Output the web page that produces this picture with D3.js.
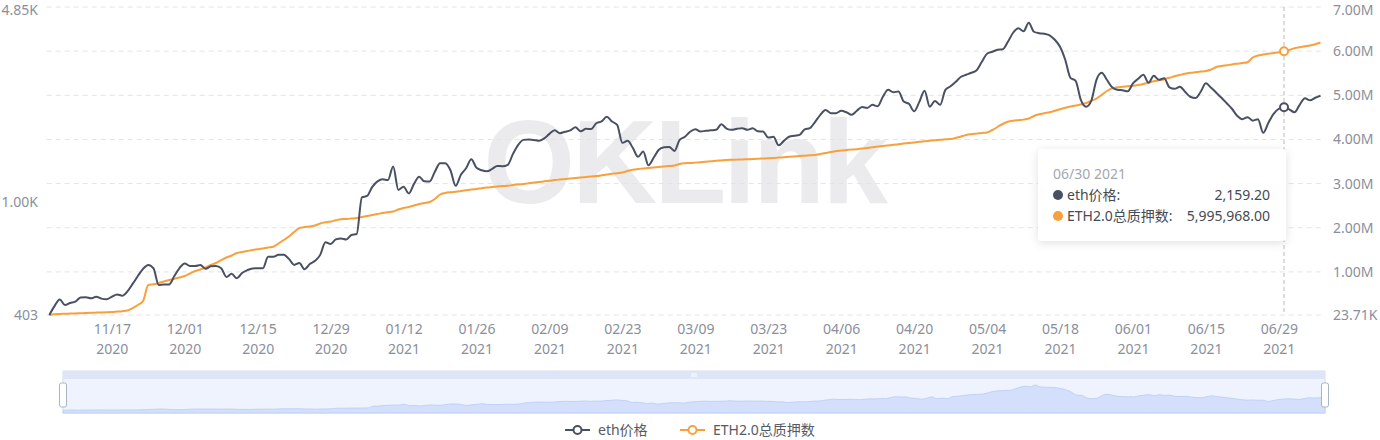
<!DOCTYPE html>
<html><head><meta charset="utf-8">
<script src="https://cdn.jsdelivr.net/npm/d3@7"></script>
<style>
body{margin:0;background:#fff;}
svg{display:block;font-family:"Noto Sans","Noto Sans CJK SC",sans-serif;}
</style>
</head><body>
<svg id="chart" width="1380" height="440"></svg>
<script>
// ---------- data ----------
const startDate = "2020-11-05";   // first category; one category per day
const seriesNames = ["eth价格", "ETH2.0总质押数"];
const ethPrice = [
403,433,457,437,444,449,464,465,461,467,
460,458,467,476,471,488,518,552,585,604,
587,514,516,516,552,589,611,599,599,604,
585,597,599,588,548,562,542,566,579,587,
588,588,645,645,655,655,634,604,613,583,
608,624,655,726,715,742,748,742,769,775,
1042,1054,1135,1186,1206,1198,1336,1107,1135,1076,
1162,1230,1186,1184,1281,1374,1374,1297,1144,1250,
1318,1417,1323,1297,1286,1312,1344,1339,1355,1481,
1593,1658,1664,1658,1645,1678,1741,1791,1751,1770,
1791,1835,1777,1813,1809,1896,1924,1998,1924,1873,
1619,1645,1555,1446,1509,1350,1435,1530,1561,1567,
1517,1658,1700,1770,1806,1774,1784,1791,1798,1880,
1817,1798,1813,1823,1798,1820,1777,1774,1689,1700,
1587,1645,1700,1714,1727,1806,1823,1919,2030,2109,
2058,2058,2097,2072,2030,2097,2161,2146,2201,2175,
2349,2485,2436,2452,2260,2219,2089,2254,2465,2166,
2272,2201,2485,2556,2651,2760,2805,2851,2909,3116,
3325,3379,3434,3448,3662,3939,4085,3987,4271,3971,
3923,3907,3860,3722,3517,3167,2738,2672,2290,2166,
2272,2694,2851,2694,2536,2485,2475,2455,2618,2716,
2805,2629,2783,2694,2727,2536,2505,2546,2446,2349,
2324,2446,2618,2526,2426,2330,2228,2132,2014,1960,
1992,1937,1960,1755,1903,2046,2132,2159.2,2123,2072,
2201,2320,2282,2330,2368
];
const ethStaked = [
23710,42000,46000,51000,55000,60000,64000,69000,73000,78000,
83000,87000,92000,101000,110000,126000,182000,250000,341000,703000,
719000,748000,782000,816000,846000,873000,907000,964000,1020000,1054000,
1104000,1156000,1202000,1269000,1326000,1371000,1428000,1451000,1473000,1496000,
1512000,1530000,1553000,1571000,1643000,1723000,1802000,1904000,1994000,2017000,
2028000,2051000,2096000,2123000,2141000,2169000,2191000,2198000,2209000,2221000,
2243000,2266000,2289000,2311000,2334000,2350000,2368000,2413000,2447000,2470000,
2504000,2538000,2561000,2583000,2651000,2753000,2787000,2805000,2817000,2832000,
2848000,2864000,2878000,2896000,2912000,2923000,2934000,2945000,2950000,2968000,
2980000,2991000,3007000,3025000,3036000,3052000,3063000,3081000,3093000,3104000,
3115000,3127000,3138000,3149000,3161000,3172000,3188000,3206000,3222000,3233000,
3251000,3285000,3312000,3330000,3342000,3353000,3364000,3376000,3387000,3398000,
3410000,3444000,3460000,3466000,3475000,3484000,3494000,3505000,3516000,3525000,
3534000,3539000,3543000,3548000,3552000,3557000,3562000,3568000,3573000,3580000,
3589000,3598000,3607000,3616000,3625000,3632000,3641000,3648000,3670000,3693000,
3716000,3734000,3750000,3761000,3772000,3779000,3793000,3806000,3822000,3838000,
3851000,3865000,3879000,3892000,3906000,3919000,3933000,3947000,3958000,3969000,
3981000,3992000,4003000,4010000,4033000,4067000,4101000,4119000,4132000,4146000,
4157000,4214000,4282000,4350000,4402000,4422000,4436000,4449000,4474000,4531000,
4570000,4595000,4617000,4649000,4685000,4717000,4746000,4769000,4791000,4825000,
4875000,4927000,5007000,5097000,5158000,5181000,5192000,5204000,5215000,5233000,
5256000,5290000,5317000,5340000,5365000,5396000,5430000,5460000,5489000,5510000,
5523000,5537000,5550000,5584000,5641000,5663000,5681000,5700000,5716000,5731000,
5750000,5856000,5901000,5924000,5942000,5958000,5974000,5995968,6026000,6067000,
6089000,6110000,6130000,6155000,6196000
];
const xTicks = ["2020-11-17","2020-12-01","2020-12-15","2020-12-29","2021-01-12","2021-01-26",
  "2021-02-09","2021-02-23","2021-03-09","2021-03-23","2021-04-06","2021-04-20","2021-05-04",
  "2021-05-18","2021-06-01","2021-06-15","2021-06-29"];
const leftTicks = [403, 1000, 4850];
const leftTickLabels = ["403", "1.00K", "4.85K"];
const rightTicks = [23710, 1000000, 2000000, 3000000, 4000000, 5000000, 6000000, 7000000];
const rightTickLabels = ["23.71K","1.00M","2.00M","3.00M","4.00M","5.00M","6.00M","7.00M"];
const tooltipDate = "2021-06-30";

// ---------- setup ----------
const colPrice = "#4a5063", colStake = "#f7a03c", axisText = "#8a8f9b";
const parse = d3.utcParse("%Y-%m-%d");
const t0 = parse(startDate);
const dates = ethPrice.map((_, i) => d3.utcDay.offset(t0, i));
const rows = dates.map((d, i) => ({date: d, price: ethPrice[i], staked: ethStaked[i]}));

const svg = d3.select("#chart");
const plot = {left: 49.3, right: 1320.5, top: 7, bottom: 315};

const x = d3.scaleUtc().domain([dates[0], dates[dates.length - 1]]).range([plot.left, plot.right]);
const yL = d3.scaleLog().domain([403, 4850]).range([plot.bottom, plot.top]);
const yR = d3.scaleLinear().domain([23710, 7000000]).range([plot.bottom, plot.top]);

// watermark
svg.append("text").attr("x", 684).attr("y", 203).attr("text-anchor", "middle")
  .attr("font-family", "Liberation Sans, Arial, sans-serif").attr("font-weight", "bold")
  .attr("font-size", 118).attr("fill", "#ebebed").attr("letter-spacing", -3).text("OKLink");

// grid lines (right axis ticks)
svg.append("g").selectAll("line").data(rightTicks).join("line")
  .attr("x1", 46.7).attr("x2", 1322)
  .attr("y1", d => yR(d)).attr("y2", d => yR(d))
  .attr("stroke", "#e2e4ea").attr("stroke-width", 1).attr("stroke-dasharray", "5,4");

// right axis
const rAxis = d3.axisRight(yR).tickValues(rightTicks).tickSize(0).tickPadding(0)
  .tickFormat((d, i) => rightTickLabels[i]);
const gR = svg.append("g").attr("transform", "translate(1333,0)").call(rAxis);
gR.select(".domain").remove();
gR.selectAll("text").attr("fill", axisText).attr("font-size", 14)
  .attr("font-family", "Noto Sans, sans-serif");
gR.selectAll(".tick").filter(d => d === 7000000).select("text").attr("dy", "0.5em");

// left axis
const lAxis = d3.axisLeft(yL).tickValues(leftTicks).tickSize(0).tickPadding(0)
  .tickFormat((d, i) => leftTickLabels[i]);
const gL = svg.append("g").attr("transform", "translate(38,0)").call(lAxis);
gL.select(".domain").remove();
gL.selectAll("text").attr("fill", axisText).attr("font-size", 14)
  .attr("font-family", "Noto Sans, sans-serif");
gL.selectAll(".tick").filter(d => d === 4850).select("text").attr("dy", "0.5em");

// x axis
const xtDates = xTicks.map(parse);
const xAxis = d3.axisBottom(x).tickValues(xtDates).tickSize(0).tickPadding(0)
  .tickFormat(d3.utcFormat("%m/%d"));
const gX = svg.append("g").attr("transform", "translate(0,324)").call(xAxis);
gX.select(".domain").remove();
gX.selectAll("text").attr("fill", axisText).attr("font-size", 14)
  .attr("font-family", "Noto Sans, sans-serif")
  .each(function(d) {
    const t = d3.select(this);
    t.append("tspan").attr("x", 0).attr("dy", "1.43em").text(d3.utcFormat("%Y")(d));
  });

// lines
const linePrice = d3.line().x(d => x(d.date)).y(d => yL(d.price)).curve(d3.curveMonotoneX);
const lineStake = d3.line().x(d => x(d.date)).y(d => yR(d.staked)).curve(d3.curveMonotoneX);
svg.append("path").datum(rows).attr("d", lineStake).attr("fill", "none")
  .attr("stroke", colStake).attr("stroke-width", 2);
svg.append("path").datum(rows).attr("d", linePrice).attr("fill", "none")
  .attr("stroke", colPrice).attr("stroke-width", 2);

// crosshair + tooltip
const tt = rows.find(r => +r.date === +parse(tooltipDate));
const tx = x(tt.date);
svg.append("line").attr("x1", tx).attr("x2", tx).attr("y1", plot.top).attr("y2", plot.bottom)
  .attr("stroke", "#b8bbc2").attr("stroke-width", 1).attr("stroke-dasharray", "4,3");
svg.append("circle").attr("cx", tx).attr("cy", yR(tt.staked)).attr("r", 4)
  .attr("fill", "#fff").attr("stroke", colStake).attr("stroke-width", 2);
svg.append("circle").attr("cx", tx).attr("cy", yL(tt.price)).attr("r", 4)
  .attr("fill", "#fff").attr("stroke", colPrice).attr("stroke-width", 2);

const defs = svg.append("defs");
const f = defs.append("filter").attr("id", "sh").attr("x", "-20%").attr("y", "-30%")
  .attr("width", "140%").attr("height", "160%");
f.append("feDropShadow").attr("dx", 0).attr("dy", 2).attr("stdDeviation", 5)
  .attr("flood-color", "#000").attr("flood-opacity", 0.12);
const tg = svg.append("g").attr("transform", "translate(1038,149)");
tg.append("rect").attr("width", 248).attr("height", 92).attr("rx", 4)
  .attr("fill", "#fff").attr("filter", "url(#sh)");
tg.append("text").attr("x", 15).attr("y", 30).attr("font-size", 14).attr("fill", "#a3a7b0")
  .text(d3.utcFormat("%m/%d %Y")(tt.date));
const ttRows = [
  {name: seriesNames[0], color: colPrice, val: tt.price},
  {name: seriesNames[1], color: colStake, val: tt.staked}
];
ttRows.forEach((r, i) => {
  const cy = 46 + i * 21;
  tg.append("circle").attr("cx", 20).attr("cy", cy).attr("r", 5).attr("fill", r.color);
  tg.append("text").attr("x", 29).attr("y", cy + 5).attr("font-size", 14).attr("fill", "#464a53")
    .attr("font-family", "Noto Sans, Noto Sans CJK SC, sans-serif").text(r.name + ":");
  tg.append("text").attr("x", 232).attr("y", cy + 5).attr("text-anchor", "end")
    .attr("font-size", 14).attr("fill", "#464a53").text(d3.format(",.2f")(r.val));
});

// ---------- data zoom slider ----------
const sl = {left: 63, right: 1325, top: 371, bottom: 413};
const xs = d3.scaleUtc().domain(x.domain()).range([sl.left, sl.right]);
const ys = d3.scaleLinear().domain([0, d3.max(ethPrice)]).range([sl.bottom, 385]);
svg.append("rect").attr("x", sl.left).attr("y", sl.top).attr("width", sl.right - sl.left)
  .attr("height", sl.bottom - sl.top).attr("fill", "#eef3fd").attr("stroke", "#d6def0");
svg.append("rect").attr("x", sl.left).attr("y", sl.top).attr("width", sl.right - sl.left)
  .attr("height", 8).attr("fill", "#dde5f6");
svg.append("path").datum(rows)
  .attr("d", d3.area().x(d => xs(d.date)).y0(sl.bottom).y1(d => ys(d.price)).curve(d3.curveMonotoneX))
  .attr("fill", "#d4e0fb").attr("stroke", "#b9cbf5").attr("stroke-width", 0.8);
// grip
[-2, 0, 2].forEach(o => svg.append("line").attr("x1", 694 + o).attr("x2", 694 + o)
  .attr("y1", 373).attr("y2", 377).attr("stroke", "#fff").attr("stroke-width", 1));
// handles
[sl.left, sl.right].forEach(hx => {
  svg.append("rect").attr("x", hx - 3.5).attr("y", 383).attr("width", 7).attr("height", 24)
    .attr("rx", 2).attr("fill", "#fff").attr("stroke", "#a9b4c6").attr("stroke-width", 1);
});

// ---------- legend ----------
const lg = [
  {name: seriesNames[0], color: colPrice, ix: 565, tx: 598},
  {name: seriesNames[1], color: colStake, ix: 680, tx: 713}
];
lg.forEach(l => {
  svg.append("line").attr("x1", l.ix).attr("x2", l.ix + 25).attr("y1", 430).attr("y2", 430)
    .attr("stroke", l.color).attr("stroke-width", 2);
  svg.append("circle").attr("cx", l.ix + 12.5).attr("cy", 430).attr("r", 4)
    .attr("fill", "#fff").attr("stroke", l.color).attr("stroke-width", 2);
  svg.append("text").attr("x", l.tx).attr("y", 435).attr("font-size", 14).attr("fill", "#555a66")
    .attr("font-family", "Noto Sans, Noto Sans CJK SC, sans-serif").text(l.name);
});
</script>
</body></html>
